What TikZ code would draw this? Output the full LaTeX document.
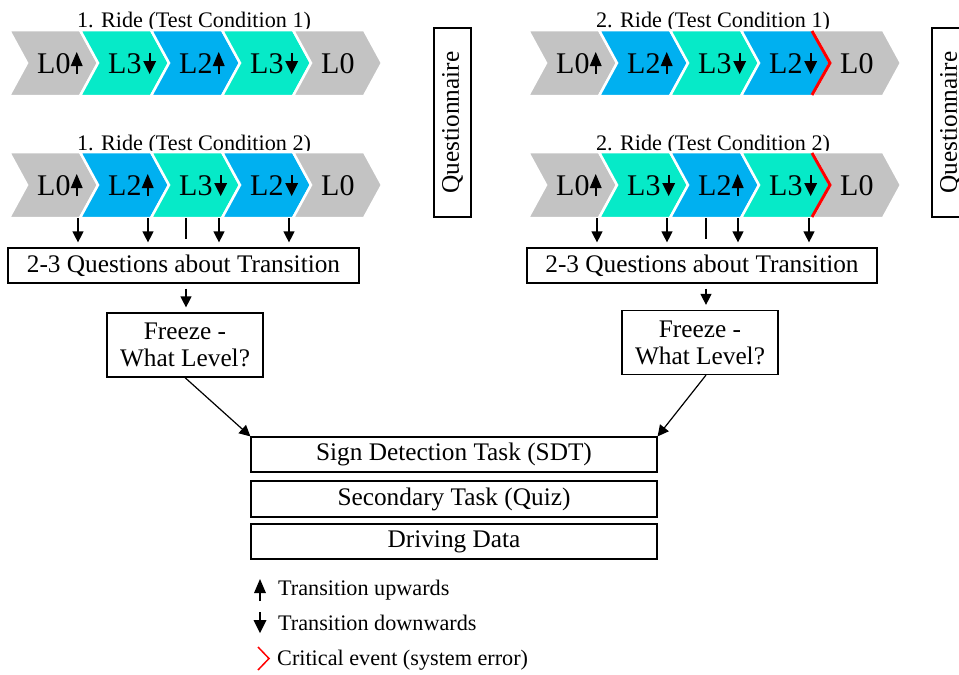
\documentclass[tikz,border=0pt]{standalone}
\usepackage{fontspec}
\setmainfont{Liberation Serif}
\usetikzlibrary{arrows.meta}
\definecolor{cgray}{RGB}{195,195,195}
\definecolor{cteal}{RGB}{6,234,200}
\definecolor{cblue}{RGB}{0,176,240}
\definecolor{cred}{RGB}{255,0,0}
\newcommand\chev[3]{\path[fill=#3, draw=white, line width=2.5pt, line join=miter] (#1,#2) -- ++(71,0) -- ++(18,33) -- ++(-18,33) -- ++(-71,0) -- ++(18,-33) -- cycle;}
\newcommand\lvlU[4]{\node[lvl, anchor=base west] (#1) at (#2,#3) {#4}; \pic at ([xshift=6pt]#1.base east) {uparrow};}
\newcommand\lvlD[4]{\node[lvl, anchor=base west] (#1) at (#2,#3) {#4}; \pic at ([xshift=8pt]#1.base east) {dnarrow};}
\newcommand\lvlN[4]{\node[lvl, anchor=base west] (#1) at (#2,#3) {#4};}
\tikzset{
  box/.style={draw=black, line width=1.2pt, fill=white, inner sep=0pt, font=\fontsize{25.3}{27}\selectfont},
  lvl/.style={inner sep=0pt, font=\fontsize{30}{32}\selectfont},
  ttl/.style={inner sep=0pt, font=\fontsize{22.2}{24}\selectfont},
  arr/.style={line width=1.2pt, -{Triangle[width=11pt,length=11pt]}},
  ln/.style={line width=1.2pt},
  uparrow/.pic={\draw[line width=1.6pt] (0,1) -- (0,-8); \fill (-6,-7) -- (6,-7) -- (0,-21) -- cycle;},
  dnarrow/.pic={\draw[line width=1.6pt] (0,-20) -- (0,-10); \fill (-6.5,-12) -- (6.5,-12) -- (0,1) -- cycle;}
}
\begin{document}
\begin{tikzpicture}[x=1pt,y=-1pt]
\useasboundingbox (0,0) rectangle (959,675);
\clip (0,0) rectangle (959,675);
% titles
\node[ttl, anchor=base] (t1) at (194,27) {1. Ride (Test Condition 1)};
\node[ttl, anchor=base] (t2) at (194,150) {1. Ride (Test Condition 2)};
\node[ttl, anchor=base] (t3) at (713,27) {2. Ride (Test Condition 1)};
\node[ttl, anchor=base] (t4) at (713,150) {2. Ride (Test Condition 2)};
% chevrons left
\chev{9}{30}{cgray}\chev{80}{30}{cteal}\chev{151}{30}{cblue}\chev{222}{30}{cteal}\chev{293}{30}{cgray}
\chev{9}{152}{cgray}\chev{80}{152}{cblue}\chev{151}{152}{cteal}\chev{222}{152}{cblue}\chev{293}{152}{cgray}
% chevrons right
\chev{528}{30}{cgray}\chev{599}{30}{cblue}\chev{670}{30}{cteal}\chev{741}{30}{cblue}\chev{812}{30}{cgray}
\chev{528}{152}{cgray}\chev{599}{152}{cteal}\chev{670}{152}{cblue}\chev{741}{152}{cteal}\chev{812}{152}{cgray}
% critical events
\draw[cred, line width=3pt] (812,31) -- (830,63) -- (812,95);
\draw[cred, line width=3pt] (812,153) -- (830,185) -- (812,217);
% labels
\lvlU{a1}{37}{73}{L0}\lvlD{a2}{108}{73}{L3}\lvlU{a3}{179}{73}{L2}\lvlD{a4}{250}{73}{L3}\lvlN{a5}{321}{73}{L0}
\lvlU{b1}{37}{195}{L0}\lvlU{b2}{108}{195}{L2}\lvlD{b3}{179}{195}{L3}\lvlD{b4}{250}{195}{L2}\lvlN{b5}{321}{195}{L0}
\lvlU{c1}{556}{73}{L0}\lvlU{c2}{627}{73}{L2}\lvlD{c3}{698}{73}{L3}\lvlD{c4}{769}{73}{L2}\lvlN{c5}{840}{73}{L0}
\lvlU{d1}{556}{195}{L0}\lvlD{d2}{627}{195}{L3}\lvlU{d3}{698}{195}{L2}\lvlD{d4}{769}{195}{L3}\lvlN{d5}{840}{195}{L0}
% questionnaires
\node[box, rotate=90, minimum width=189pt, minimum height=37pt] (qn1) at (452.5,122.5) {Questionnaire};
\node[box, rotate=90, minimum width=189pt, minimum height=37pt] (qn2) at (950.5,122.5) {Questionnaire};
% question boxes
\node[box, minimum width=351pt, minimum height=35pt] (q1) at (183.5,265.5) {2-3 Questions about Transition};
\node[box, minimum width=350pt, minimum height=35pt] (q2) at (702,265.5) {2-3 Questions about Transition};
\node[box, minimum width=156pt, minimum height=64pt, align=center] (f1) at (185,345) {Freeze -\\What Level?};
\node[box, minimum width=156pt, minimum height=64pt, align=center] (f2) at (700,342.5) {Freeze -\\What Level?};
% bottom boxes
\node[box, minimum width=406pt, minimum height=35pt] (sdt) at (454,454.5) {Sign Detection Task (SDT)};
\node[box, minimum width=406pt, minimum height=36pt] (sec) at (454,499) {Secondary Task (Quiz)};
\node[box, minimum width=406pt, minimum height=35pt] (drv) at (454,541.5) {Driving Data};
% transition arrows left
\coordinate (l1) at (78,218); \coordinate (l2) at (148,218); \coordinate (lm) at (186,218);
\coordinate (l3) at (219,218); \coordinate (l4) at (289,218);
\foreach \p in {l1,l2,l3,l4} {\draw[arr, shorten >=5pt] (\p) -- (\p |- q1.north);}
\draw[ln] (lm) -- ([yshift=8pt]lm |- q1.north);
\draw[arr, shorten <=5pt, shorten >=5pt] (lm |- q1.south) -- (lm |- f1.north);
% transition arrows right
\coordinate (r1) at (597,218); \coordinate (r2) at (667,218); \coordinate (rm) at (706,218);
\coordinate (r3) at (738,218); \coordinate (r4) at (809,218);
\foreach \p in {r1,r2,r3,r4} {\draw[arr, shorten >=5pt] (\p) -- (\p |- q2.north);}
\draw[ln] (rm) -- ([yshift=8pt]rm |- q2.north);
\draw[arr, shorten <=5pt, shorten >=5pt] (rm |- q2.south) -- (rm |- f2.north);
% diagonals
\draw[arr] (f1.south) -- (sdt.north west);
\draw[arr] ([xshift=6pt]f2.south) -- (sdt.north east);
% legend
\pic at (260,600) {uparrow};
\node[ttl, anchor=base west] (lg1) at (278,595) {Transition upwards};
\pic at (260,632) {dnarrow};
\node[ttl, anchor=base west] (lg2) at (278,630) {Transition downwards};
\draw[cred, line width=1.5pt] (258,647) -- (269,658.5) -- (258,670);
\node[ttl, anchor=base west] (lg3) at (277,665) {Critical event (system error)};
\end{tikzpicture}
\end{document}
